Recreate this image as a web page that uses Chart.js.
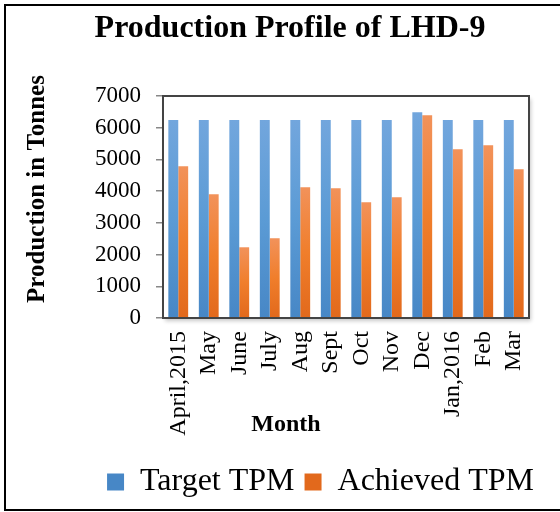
<!DOCTYPE html>
<html>
<head>
<meta charset="utf-8">
<script src="https://cdn.jsdelivr.net/npm/chart.js@4/dist/chart.umd.min.js"></script>
<style>
  html, body { margin: 0; padding: 0; background: #fff; overflow: hidden; }
  #wrap { position: relative; width: 560px; height: 512px; overflow: hidden; }
  #frame { position: absolute; left: 4px; top: 4px; width: 600px; height: 503px;
           border: 2px solid #000; border-right: none; pointer-events: none; }
</style>
</head>
<body>
<div id="wrap">
  <canvas id="chart" width="560" height="512"></canvas>
  <div id="frame"></div>
</div>
<script>
// — data —
const months   = ['April,2015', 'May', 'June', 'July', 'Aug', 'Sept', 'Oct', 'Nov', 'Dec', 'Jan,2016', 'Feb', 'Mar'];
const target   = [6240, 6240, 6240, 6240, 6240, 6240, 6240, 6240, 6490, 6240, 6240, 6240];
const achieved = [4785, 3900, 2230, 2515, 4120, 4090, 3650, 3805, 6395, 5320, 5445, 4690];
const yTicks   = [0, 1000, 2000, 3000, 4000, 5000, 6000, 7000];

const serif = "'Liberation Serif', 'Times New Roman', serif";

// gradient per bar, top light -> bottom dark
function barGradient(stops) {
  return (ctx) => {
    const chart = ctx.chart;
    const ys = chart.scales && chart.scales.y;
    if (!chart.chartArea || !ys || ctx.raw == null) return stops[1];
    const top = ys.getPixelForValue(ctx.raw);
    const base = ys.getPixelForValue(0);
    const g = chart.ctx.createLinearGradient(0, top, 0, base);
    g.addColorStop(0, stops[0]);
    g.addColorStop(0.5, stops[1]);
    g.addColorStop(1, stops[2]);
    return g;
  };
}

// plot frame with soft shadow + free-placed titles
const decor = {
  id: 'decor',
  beforeDatasetsDraw(chart) {
    const { ctx, chartArea: a } = chart;
    ctx.save();
    ctx.shadowColor = 'rgba(0,0,0,0.22)';
    ctx.shadowBlur = 4;
    ctx.shadowOffsetX = 2;
    ctx.shadowOffsetY = 3;
    ctx.fillStyle = '#fff';
    ctx.fillRect(a.left, a.top, a.right - a.left, a.bottom - a.top);
    ctx.restore();
  },
  afterDatasetsDraw(chart) {
    const { ctx, chartArea: a } = chart;
    ctx.save();
    ctx.strokeStyle = '#444';
    ctx.lineWidth = 2;
    ctx.strokeRect(a.left, a.top, a.right - a.left, a.bottom - a.top);
    ctx.restore();
  },
  afterDraw(chart) {
    const ctx = chart.ctx;
    ctx.save();
    ctx.fillStyle = '#000';
    ctx.textAlign = 'center';
    ctx.textBaseline = 'middle';
    ctx.font = 'bold 32px ' + serif;
    ctx.fillText('Production Profile of LHD-9', 290, 29);
    ctx.font = 'bold 24px ' + serif;
    ctx.fillText('Month', 286, 425);
    ctx.font = 'bold 25px ' + serif;
    ctx.translate(38, 189);
    ctx.rotate(-Math.PI / 2);
    ctx.fillText('Production in Tonnes', 0, 0);
    ctx.restore();
  }
};

new Chart(document.getElementById('chart'), {
  type: 'bar',
  data: {
    labels: months,
    datasets: [{
      label: 'Target TPM',
      data: target,
      backgroundColor: barGradient(['#72A6DD', '#5B9BD5', '#4787C6']),
      borderWidth: 0,
      categoryPercentage: 0.65,
      barPercentage: 1
    }, {
      label: 'Achieved TPM',
      data: achieved,
      backgroundColor: barGradient(['#F2925A', '#F07E2B', '#E2691C']),
      borderWidth: 0,
      categoryPercentage: 0.65,
      barPercentage: 1
    }]
  },
  options: {
    responsive: false,
    animation: false,
    layout: { padding: { top: 96, left: 82, right: 1, bottom: 4 } },
    scales: {
      x: {
        grid: { display: false, drawTicks: false },
        border: { display: false },
        ticks: {
          color: '#000',
          font: { family: serif, size: 24 },
          minRotation: 90,
          maxRotation: 90,
          padding: 13,
          autoSkip: false
        },
        afterFit: (s) => { s.height = 138; }
      },
      y: {
        min: 0,
        max: 7000,
        afterBuildTicks: (s) => { s.ticks = yTicks.map(v => ({ value: v })); },
        grid: { drawOnChartArea: false, drawTicks: true, tickLength: 7, color: '#888', lineWidth: 1.5 },
        border: { display: false },
        ticks: {
          color: '#000',
          font: { family: serif, size: 23 },
          padding: 15,
          callback: (v) => String(v)
        },
        afterFit: (s) => { s.width = 81; }
      },
      yRight: {
        position: 'right',
        display: true,
        grid: { display: false, drawTicks: false },
        border: { display: false },
        ticks: { display: false },
        afterFit: (s) => { s.width = 30; }
      }
    },
    plugins: {
      title: { display: false },
      tooltip: { enabled: false },
      legend: {
        position: 'bottom',
        labels: {
          color: '#000',
          font: { family: serif, size: 32 },
          boxWidth: 17,
          boxHeight: 17,
          padding: 10
        }
      }
    }
  },
  plugins: [decor]
});
</script>
</body>
</html>
